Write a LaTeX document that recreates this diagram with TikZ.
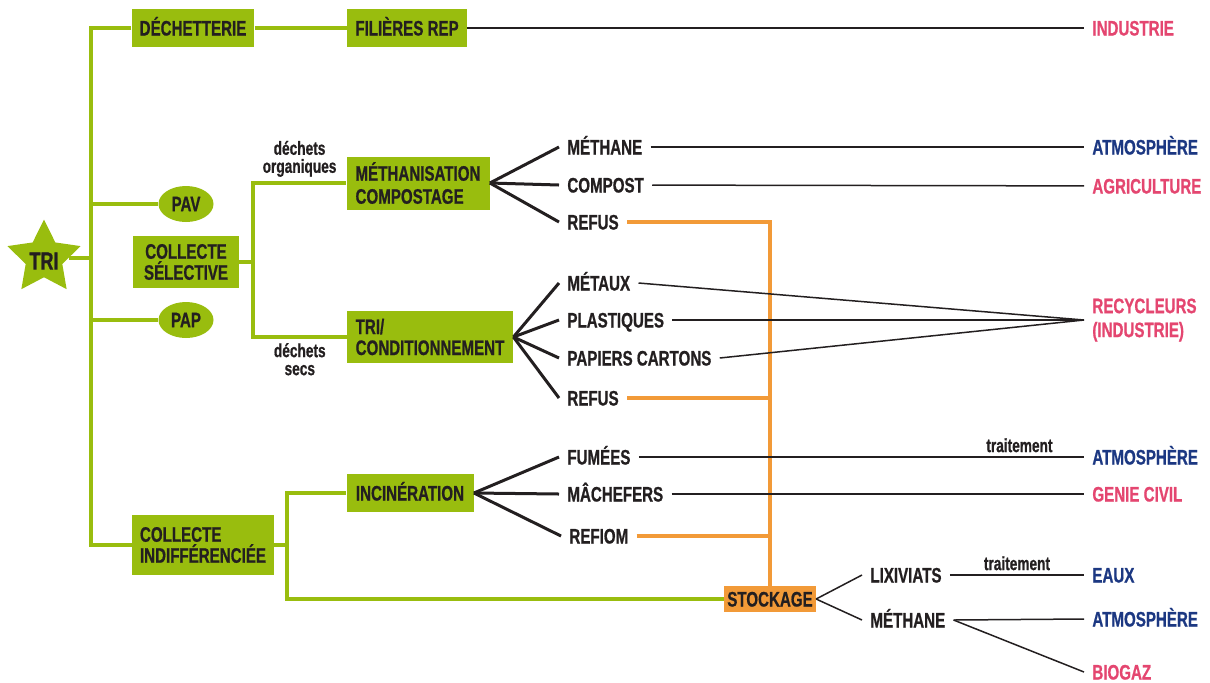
\documentclass[tikz,border=0pt]{standalone}
\usepackage{fontspec}
\setmainfont{Liberation Sans}[FakeStretch=0.72, BoldFeatures={FakeBold=0.8}]
\usetikzlibrary{shapes.geometric}
\definecolor{leaf}{RGB}{153,189,14}
\definecolor{amber}{RGB}{242,154,56}
\definecolor{rose}{RGB}{228,70,112}
\definecolor{navy}{RGB}{28,56,130}
\definecolor{ink}{RGB}{35,31,32}
\begin{document}
\begin{tikzpicture}[x=0.5pt, y=-0.5pt, text=ink,
    font=\bfseries\fontsize{10.5}{10.5}\selectfont,
    box/.style ={fill=leaf, inner xsep=4pt, inner ysep=0pt},
    onebox/.style ={box, minimum height=19pt, text height=7.5pt, text depth=0pt},
    pill/.style ={ellipse, fill=leaf, inner sep=0pt, minimum width=27.5pt, minimum height=18pt},
    item/.style ={anchor=west, inner xsep=4pt, inner ysep=0pt, text height=7.5pt, text depth=0pt},
    goal/.style ={item, text=rose},
    goalb/.style ={item, text=navy},
    vine/.style ={draw=leaf, line width=2.2pt},
    fan/.style ={draw=ink, line width=1.5pt},
    wire/.style ={draw=ink, line width=0.75pt},
    feed/.style ={draw=amber, line width=2.2pt},
    note/.style ={font=\bfseries\fontsize{9.5}{9}\selectfont, inner sep=2pt}]
   \useasboundingbox (0,0) rectangle (1210,682);

   \coordinate (T) at (91,0);
   \coordinate (S) at (253,0);
   \coordinate (U) at (287,0);

   \node[star, star points=5, star point ratio=2.0, fill=leaf, inner sep=0pt, minimum size=38.5pt,
         label={[font=\bfseries\fontsize{12.5}{12}\selectfont, yshift=-1.5pt]center:TRI}] (TRI) at (44,258) {};
   \node[onebox, minimum width=60pt] (DEC) at (193,28) {DÉCHETTERIE};
   \node[onebox, minimum width=60pt] (REP) at (407,28) {FILIÈRES REP};
   \node[pill] (PAV) at (186,204) {PAV};
   \node[box, align=center, minimum width=53pt, minimum height=26pt] (CS) at (186,262) {COLLECTE\\SÉLECTIVE};
   \node[pill] (PAP) at (186,320) {PAP};
   \node[box, align=left, minimum width=70pt, minimum height=30pt] (CI) at (203,545) {COLLECTE\\INDIFFÉRENCIÉE};
   \node[box, align=left, minimum width=71.5pt, minimum height=26.5pt] (MC) at (418,183) {MÉTHANISATION\\[1pt]COMPOSTAGE};
   \node[box, align=left, minimum width=83pt, minimum height=26pt] (TC) at (430,337) {TRI/\\CONDITIONNEMENT};
   \node[onebox, minimum width=63.5pt] (INC) at (410,493) {INCINÉRATION};
   \node[onebox, fill=amber, inner xsep=1.5pt, minimum width=45.5pt, minimum height=13pt] (STO) at (770,599) {STOCKAGE};

   \node[item] (ME1) at (559,147) {MÉTHANE};
   \node[item] (COM) at (559,185) {COMPOST};
   \node[item] (RF1) at (559,222) {REFUS};
   \node[item] (MET) at (559,283) {MÉTAUX};
   \node[item] (PLA) at (559,320) {PLASTIQUES};
   \node[item] (PAC) at (559,358) {PAPIERS CARTONS};
   \node[item] (RF2) at (559,398) {REFUS};
   \node[item] (FUM) at (559,457) {FUMÉES};
   \node[item] (MAC) at (559,494) {MÂCHEFERS};
   \node[item] (RFM) at (561,536) {REFIOM};
   \node[item] (LIX) at (862,575) {LIXIVIATS};
   \node[item] (ME2) at (862,620) {MÉTHANE};

   \node[goal] (IND) at (1084,28) {INDUSTRIE};
   \node[goalb] (AT1) at (1084,147) {ATMOSPHÈRE};
   \node[goal] (AGR) at (1084,186) {AGRICULTURE};
   \node[anchor=west, inner xsep=4pt, inner ysep=0pt, text=rose, align=left] (REC) at (1084,320) {RECYCLEURS\\[1.5pt](INDUSTRIE)};
   \node[goalb] (AT2) at (1084,457) {ATMOSPHÈRE};
   \node[goal] (GC) at (1084,494) {GENIE CIVIL};
   \node[goalb] (EAU) at (1084,575) {EAUX};
   \node[goalb] (AT3) at (1084,619) {ATMOSPHÈRE};
   \node[goal] (BIO) at (1084,672) {BIOGAZ};

   \draw[vine] (DEC.west) -- (T |- DEC.west) -- (T |- CI.west) -- (CI.west);
   \draw[vine] (TRI) to (T |- TRI);
   \draw[vine] (T |- PAV) to (PAV);
   \draw[vine] (T |- PAP) to (PAP);
   \draw[vine] (DEC) to (REP);
   \draw[vine] (CS) to (S |- CS);
   \draw[vine] (MC.west) -- node[note, above, align=center] {déchets\\organiques} (S |- MC.west)
      -- (S |- TC.west) -- node[note, below, align=center] {déchets\\secs} (TC.west);
   \draw[vine] (CI) to (U |- CI);
   \draw[vine] (INC.west) -- (U |- INC.west) -- (U |- STO.west) -- (STO.west);

   \draw[fan] (MC.east) to (ME1.west);
   \draw[fan] (MC.east) to (COM.west);
   \draw[fan] (MC.east) to (RF1.west);
   \draw[fan] (TC.east) to (MET.west);
   \draw[fan] (TC.east) to (PLA.west);
   \draw[fan] (TC.east) to (PAC.west);
   \draw[fan] (TC.east) to (RF2.west);
   \draw[fan] (INC.east) to (FUM.west);
   \draw[fan] (INC.east) to (MAC.west);
   \draw[fan] (INC.east) to (RFM.west);
   \draw[wire] (STO.east) to (LIX.west);
   \draw[wire] (STO.east) to (ME2.west);

   \draw[feed] (RF1.east) -| (STO.north);
   \draw[feed] (RF2.east) to (STO.north |- RF2.east);
   \draw[feed] (RFM.east) to (STO.north |- RFM.east);

   \draw[wire] (REP) to (IND);
   \draw[wire] (ME1) to (AT1);
   \draw[wire] (COM) to (AGR);
   \draw[wire] (MET.east) to (REC.west);
   \draw[wire] (PLA.east) to (REC.west);
   \draw[wire] (PAC.east) to (REC.west);
   \draw[wire] (FUM) to node[note, above, pos=0.855] {traitement} (AT2);
   \draw[wire] (MAC) to (GC);
   \draw[wire] (LIX) to node[note, above, pos=0.5] {traitement} (EAU);
   \draw[wire] (ME2.east) to (AT3.west);
   \draw[wire] (ME2.east) to (BIO.west);
 \end{tikzpicture}
\end{document}
